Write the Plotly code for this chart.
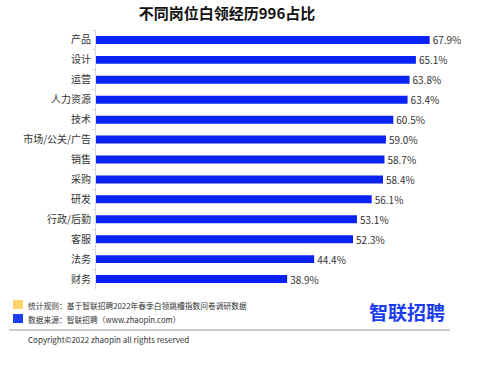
import plotly.graph_objects as go

categories = ["产品", "设计", "运营", "人力资源", "技术", "市场/公关/广告", "销售",
              "采购", "研发", "行政/后勤", "客服", "法务", "财务"]
values = [67.9, 65.1, 63.8, 63.4, 60.5, 59.0, 58.7, 58.4, 56.1, 53.1, 52.3, 44.4, 38.9]
labels = [f"{v:.1f}%" for v in values]

title = "不同岗位白领经历996占比"
note1 = "统计规则：基于智联招聘2022年春季白领跳槽指数问卷调研数据"
note2 = "数据来源：智联招聘（www.zhaopin.com）"
logo = "智联招聘"
copyright_text = "Copyright©2022 zhaopin all rights reserved"

FONT = "Noto Sans CJK SC"
W, H = 487, 375
L, R, T, B = 96, 47, 30, 86
PW, PH = W - L - R, H - T - B

fig = go.Figure(go.Bar(
    x=values, y=categories, orientation="h",
    marker=dict(color="#0A22F4", line=dict(width=0)),
    width=0.4,
    text=labels, textposition="outside", constraintext="none",
    textfont=dict(size=10, color="#333333", family=FONT),
    cliponaxis=False,
    hoverinfo="skip",
))

fig.update_layout(
    width=W, height=H,
    margin=dict(l=L, r=R, t=T, b=B, autoexpand=False),
    paper_bgcolor="white", plot_bgcolor="white",
    showlegend=False,
    font=dict(family=FONT, color="#333333"),
    title=dict(text="<b>" + title + "</b>", x=227 / W, xanchor="center",
               y=(H - 14) / H, yanchor="middle",
               font=dict(size=15, color="#111111", family=FONT)),
    xaxis=dict(range=[0, 70], visible=False, automargin=False),
    yaxis=dict(autorange="reversed", showline=True, linecolor="#d9d9d9", linewidth=1,
               ticks="outside", ticklen=3, tickcolor="#d9d9d9", tickson="boundaries",
               showgrid=False, tickfont=dict(size=10, color="#333333", family=FONT),
               ticklabelstandoff=2, automargin=False),
)

def px(x):
    return (x - L) / PW

def py(y):
    return (H - B - y) / PH

fig.add_shape(type="rect", xref="paper", yref="paper", x0=px(13), x1=px(23),
              y0=py(309), y1=py(300), fillcolor="#FFD36B", line=dict(width=0))
fig.add_shape(type="rect", xref="paper", yref="paper", x0=px(13), x1=px(23),
              y0=py(323), y1=py(314), fillcolor="#1F3DF5", line=dict(width=0))
fig.add_shape(type="line", xref="paper", yref="paper", x0=px(9), x1=px(450),
              y0=py(330), y1=py(330), line=dict(color="#999999", width=1))

def ann(text, x, y, size, color="#333333", bold=False, anchor="left"):
    fig.add_annotation(text=("<b>" + text + "</b>") if bold else text,
                       xref="paper", yref="paper", x=px(x), y=py(y),
                       xanchor=anchor, yanchor="middle", showarrow=False,
                       font=dict(size=size, color=color, family=FONT))

ann(note1, 26, 305, 7.75)
ann(note2, 26, 319, 7.75)
ann(logo, 367, 311, 19, color="#1A3CF0", bold=True)
ann(copyright_text, 26, 339, 8)

fig.write_html("out.html", config={"displayModeBar": False},
               post_script="document.body.style.margin='0';document.body.style.overflow='hidden';")
